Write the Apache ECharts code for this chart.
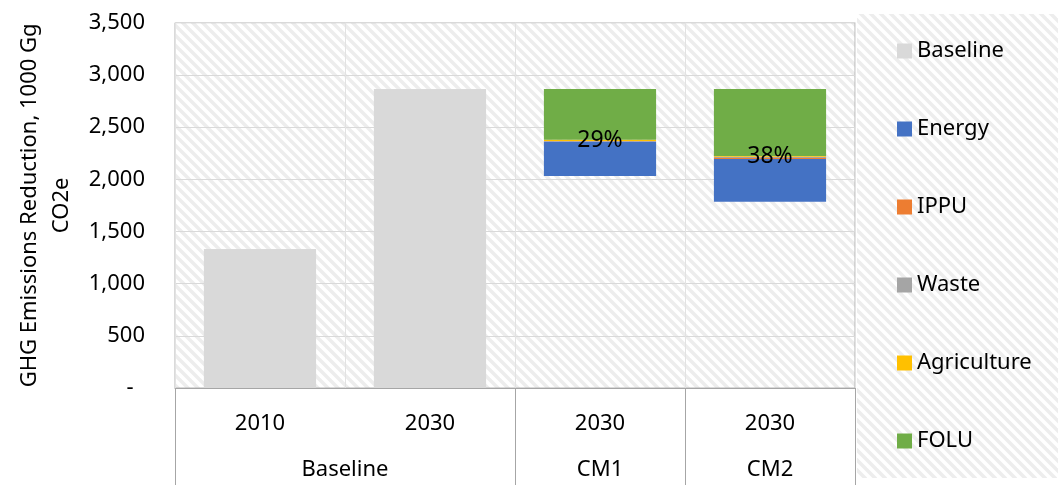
<!DOCTYPE html>
<html>
<head>
<meta charset="utf-8">
<script src="https://cdn.jsdelivr.net/npm/echarts@6/dist/echarts.min.js"></script>
<style>html,body{margin:0;padding:0;background:#fff}#c{width:1058px;height:485px}</style>
</head>
<body>
<div id="c"></div>
<script>
// ---- data ----
const categories = ['2010', '2030', '2030', '2030'];
const groupNames = ['Baseline', 'CM1', 'CM2'];
const groupSpans = [[0, 2], [2, 3], [3, 4]]; // category index ranges
const hiddenBase = [0, 0, 2031, 1785];
const baseline = [1332, 2865, 0, 0];
const energy = [0, 0, 331, 409];
const ippu = [0, 0, 2, 10];
const waste = [0, 0, 3, 12];
const agriculture = [0, 0, 12, 8];
const folu = [0, 0, 486, 641];
const pctLabels = ['', '', '29%', '38%'];
const yTicks = [0, 500, 1000, 1500, 2000, 2500, 3000, 3500];

// ---- stripe pattern ----
function stripes() {
  const s = 10;
  const cv = document.createElement('canvas');
  cv.width = s; cv.height = s;
  const g = cv.getContext('2d');
  g.fillStyle = '#ffffff';
  g.fillRect(0, 0, s, s);
  g.strokeStyle = '#ededed';
  g.lineWidth = 3.5;
  for (const c of [-s, 0, s]) {
    g.beginPath();
    g.moveTo(-2, -2 + c);
    g.lineTo(s + 2, s + 2 + c);
    g.stroke();
  }
  return { image: cv, repeat: 'repeat' };
}

const FONT = 'Noto Sans';
const groupCenters = groupSpans.map(sp => (sp[0] + sp[1]) / 2);
const groupBounds = [0].concat(groupSpans.map(sp => sp[1]));

const chart = echarts.init(document.getElementById('c'), null, { renderer: 'canvas' });
const mkBar = (name, data, color, extra) => Object.assign({
  name, type: 'bar', stack: 'total', data,
  barCategoryGap: '34%',
  itemStyle: { color },
  emphasis: { disabled: true }
}, extra || {});

chart.setOption({
  animation: false,
  backgroundColor: '#ffffff',
  textStyle: { fontFamily: FONT },
  grid: {
    left: 175, top: 22.7, right: 203, bottom: 97,
    containLabel: false,
    outerBoundsMode: 'none',
    show: true,
    backgroundColor: stripes(),
    borderColor: '#b4b4b4', borderWidth: 1
  },
  legend: {
    orient: 'vertical',
    left: 857, top: 14,
    padding: [26, 40, 26, 40],
    backgroundColor: stripes(),
    itemWidth: 15, itemHeight: 15, itemGap: 56,
    icon: 'rect',
    data: ['Baseline', 'Energy', 'IPPU', 'Waste', 'Agriculture', 'FOLU'],
    textStyle: { fontFamily: FONT, fontSize: 22, color: '#000', padding: [0, 0, 0, 0] }
  },
  xAxis: [
    {
      type: 'category', data: categories, position: 'bottom',
      axisLine: { show: true, lineStyle: { color: '#a6a6a6', width: 1 } },
      axisTick: { show: false },
      axisLabel: { fontFamily: FONT, fontSize: 22, color: '#000', margin: 25 },
      splitLine: { show: true, lineStyle: { color: '#e2e2e2' } }
    },
    {
      type: 'value', min: 0, max: categories.length, position: 'bottom', gridIndex: 0,
      axisLine: { show: false },
      splitLine: { show: false },
      axisTick: { show: true, customValues: groupBounds, length: 97, lineStyle: { color: '#a6a6a6' } },
      axisLabel: {
        customValues: groupCenters, fontFamily: FONT, fontSize: 22, color: '#000', margin: 71,
        formatter: v => { const i = groupCenters.indexOf(v); return i >= 0 ? groupNames[i] : ''; }
      }
    }
  ],
  yAxis: {
    type: 'value', min: yTicks[0], max: yTicks[yTicks.length - 1], interval: yTicks[1] - yTicks[0],
    name: 'GHG Emissions Reduction, 1000 Gg\nCO2e',
    nameLocation: 'middle', nameRotate: 90, nameGap: 96,
    nameTextStyle: { fontFamily: FONT, fontSize: 22, color: '#000', lineHeight: 32 },
    axisLine: { show: false }, axisTick: { show: false },
    axisLabel: {
      fontFamily: FONT, fontSize: 22, color: '#000', margin: 30,
      formatter: v => v === 0 ? '-  ' : v.toLocaleString('en-US')
    },
    splitLine: { lineStyle: { color: '#d9d9d9' } }
  },
  series: [
    mkBar('hidden', hiddenBase, 'rgba(0,0,0,0)', { silent: true }),
    mkBar('Baseline', baseline, '#d9d9d9'),
    mkBar('Energy', energy, '#4472c4'),
    mkBar('IPPU', ippu, '#ed7d31'),
    mkBar('Waste', waste, '#a5a5a5'),
    mkBar('Agriculture', agriculture, '#ffc000', {
      label: {
        show: true, position: 'inside', fontFamily: FONT, fontSize: 23, color: '#000',
        formatter: p => pctLabels[p.dataIndex]
      }
    }),
    mkBar('FOLU', folu, '#70ad47')
  ]
});
</script>
</body>
</html>
